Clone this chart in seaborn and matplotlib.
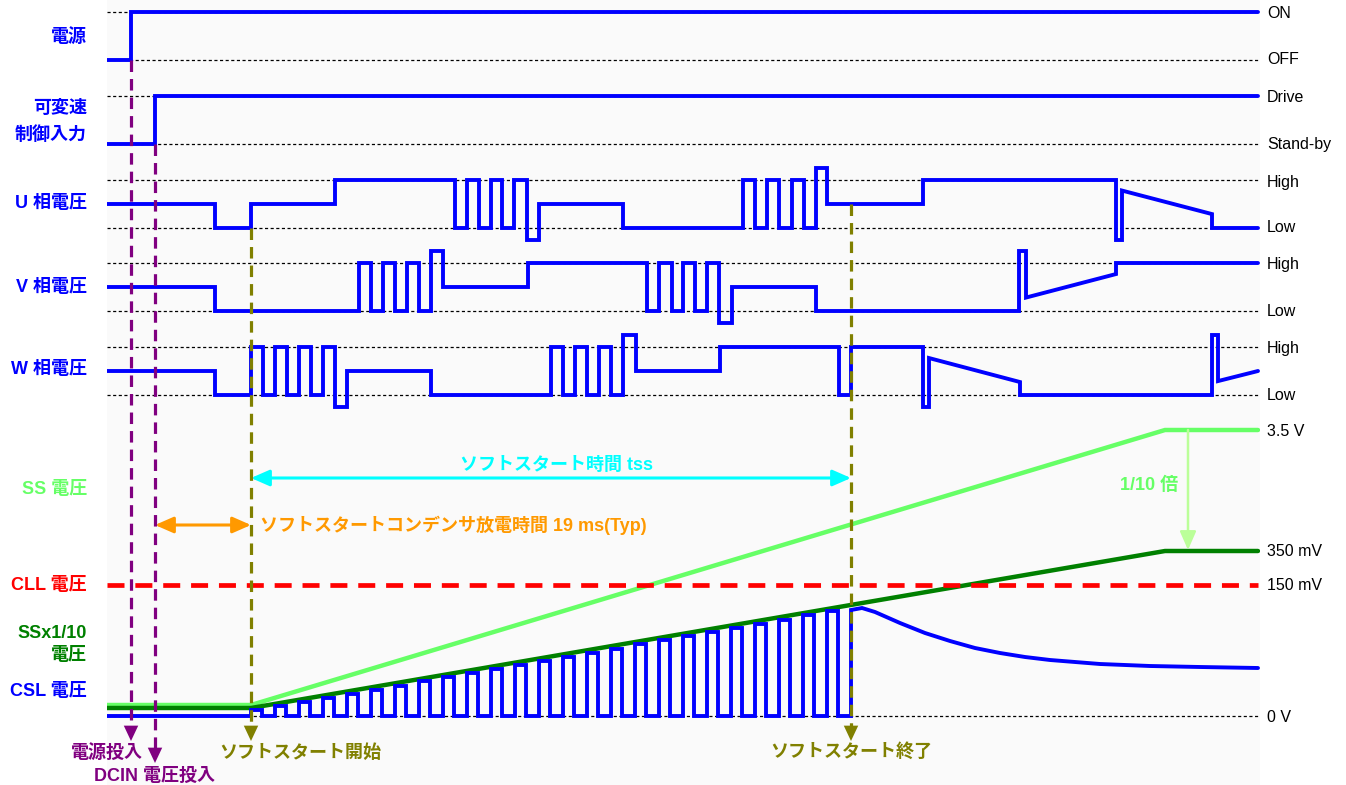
# -*- coding: utf-8 -*-
"""
Timing chart: power-on sequence and soft start (SS / CLL / CSL voltages).
"""

import matplotlib
matplotlib.use("Agg")
import matplotlib.pyplot as plt
import seaborn as sns


# =============================================================================
# Data (time axis in arbitrary units, levels: 0 = Low, 1 = High, 0.5 = Hi-Z)
# =============================================================================

T_START, T_END = 107, 1258

power_edges = [107, 131, 1258]
power_levels = [0, 1]

drive_edges = [107, 155, 1258]
drive_levels = [0, 1]

u_edges = [107, 215, 251, 335, 455, 467, 479, 491, 502, 514, 527, 539, 623,
           743, 755, 767, 779, 792, 804, 816, 827, 923, 1116, 1122, 1212, 1258]
u_levels = [0.5, 0, 0.5, 1, 0, 1, 0, 1, 0, 1, -0.25, 0.5, 0,
            1, 0, 1, 0, 1, 0, 1.25, 0.5, 1, -0.25, (0.78, 0.29), 0]

v_edges = [107, 215, 359, 371, 383, 395, 407, 419, 431, 443, 528, 647, 659,
           672, 683, 695, 707, 719, 732, 816, 1019, 1026, 1116, 1258]
v_levels = [0.5, 0, 1, 0, 1, 0, 1, 0, 1.25, 0.5, 1, 0,
            1, 0, 1, 0, 1, -0.25, 0.5, 0, 1.25, (0.28, 0.77), 1]

w_edges = [107, 215, 251, 263, 275, 287, 299, 311, 323, 335, 347, 431, 551,
           563, 575, 587, 599, 611, 623, 636, 720, 839, 851, 923, 929, 1020,
           1212, 1218, 1258]
w_levels = [0.5, 0, 1, 0, 1, 0, 1, 0, 1, -0.25, 0.5, 0,
            1, 0, 1, 0, 1, 0, 1.25, 0.5, 1, 0, 1, -0.25, (0.77, 0.27),
            0, 1.25, (0.29, 0.5)]

# analog part: height above the 0 V line
ss_t = [107, 251, 1165, 1258]
ss_h = [11, 11, 286, 286]
ss10_t = [107, 251, 1165, 1258]
ss10_h = [8, 8, 165, 165]
cll_h = 131

csl_rise = [251, 275, 299, 323, 347, 371, 395, 419, 443, 467, 491, 515, 539,
            563, 587, 611, 635, 659, 683, 707, 731, 755, 779, 803, 827]
csl_peak = [6, 10, 14, 18, 22, 26, 30, 35, 39, 43, 47, 51, 55,
            59, 63, 67, 72, 76, 80, 84, 88, 92, 96, 101, 105]
csl_pulse_width = 11
csl_decay_t = [851, 862, 875, 900, 925, 950, 975, 1000, 1025, 1050, 1075,
               1100, 1150, 1200, 1258]
csl_decay_h = [106, 108, 104, 93, 83, 75, 68, 63, 59, 56, 54, 52, 50, 49, 48]

t_power_on, t_dcin, t_ss_start, t_ss_end = 131, 155, 251, 851


# =============================================================================
# Layout
# =============================================================================

lanes = {'power': (12, 60), 'drive': (96, 144), 'U': (180, 228),
         'V': (263, 311), 'W': (347, 395)}
zero_y = 716

BLUE = '#0000ff'
PURPLE = '#800080'
OLIVE = '#808000'
LGREEN = '#66ff66'
DGREEN = '#008000'
ORANGE = '#ff9900'
CYAN = '#00ffff'

sns.set_style('white')
plt.rcParams['font.family'] = ['Liberation Sans', 'Noto Sans CJK JP', 'DejaVu Sans']


def trace(edges, levels):
    ts, ls = [], []
    for i, lv in enumerate(levels):
        a, b = lv if isinstance(lv, tuple) else (lv, lv)
        ts += [edges[i], edges[i + 1]]
        ls += [a, b]
    return ts, ls


def lane_y(levels, lane):
    hi, lo = lanes[lane]
    return [lo - l * (lo - hi) for l in levels]


def draw(ax, t, y, color, lw, z=3, **kw):
    sns.lineplot(x=t, y=y, ax=ax, estimator=None, sort=False, color=color,
                 linewidth=lw, zorder=z, solid_joinstyle='miter', **kw)


fig = plt.figure(figsize=(13.46, 7.85), dpi=100)
ax = fig.add_axes([107 / 1346, 0, (1260 - 107) / 1346, 1])
ax.set_facecolor('#fafafa')

# dotted reference lines
for hi, lo in lanes.values():
    for yy in (hi, lo):
        ax.plot([T_START, T_END], [yy, yy], color='black', lw=0.9,
                linestyle=(0, (2.5, 2)), zorder=1)
ax.plot([T_START, T_END], [zero_y, zero_y], color='black', lw=0.9,
        linestyle=(0, (2.5, 2)), zorder=1)

# digital signals
for name, edges, levels in [('power', power_edges, power_levels),
                            ('drive', drive_edges, drive_levels),
                            ('U', u_edges, u_levels),
                            ('V', v_edges, v_levels),
                            ('W', w_edges, w_levels)]:
    t, l = trace(edges, levels)
    draw(ax, t, lane_y(l, name), BLUE, 2.8)

# analog signals
draw(ax, ss_t, [zero_y - h for h in ss_h], LGREEN, 3.2, z=2)
draw(ax, ss10_t, [zero_y - h for h in ss10_h], DGREEN, 3.2, z=2)
ax.plot([T_START, T_END], [zero_y - cll_h] * 2, color='#ff0000', lw=3.4,
        linestyle=(0, (3.6, 2.3)), zorder=2)

csl_t, csl_v = [T_START, csl_rise[0]], [0, 0]
for r, p in zip(csl_rise, csl_peak):
    csl_t += [r, r, r + csl_pulse_width, r + csl_pulse_width]
    csl_v += [0, p, p, 0]
csl_t += [t_ss_end] + csl_decay_t
csl_v += [0] + csl_decay_h
draw(ax, csl_t, [zero_y - v for v in csl_v], BLUE, 2.8)

# event markers
head = dict(arrowstyle='-|>,head_length=0.85,head_width=0.4', lw=0,
            shrinkA=0, shrinkB=0, mutation_scale=13)
for x, y0, y1, c in [(t_power_on, lanes['power'][1], 741, PURPLE),
                     (t_dcin, lanes['drive'][1], 763, PURPLE),
                     (t_ss_start, lanes['U'][1], 741, OLIVE),
                     (t_ss_end, (lanes['U'][0] + lanes['U'][1]) / 2, 741, OLIVE)]:
    ax.plot([x, x], [y0, y1 - 10], color=c, lw=2.3, linestyle=(0, (3.6, 2.2)),
            zorder=5)
    ax.annotate('', xy=(x, y1), xytext=(x, y1 - 14),
                arrowprops=dict(head, color=c), zorder=5)

ax.annotate('', xy=(t_ss_start, 478), xytext=(t_ss_end, 478),
            arrowprops=dict(arrowstyle='<|-|>,head_length=0.8,head_width=0.35',
                            color=CYAN, lw=2.2, shrinkA=0, shrinkB=0,
                            mutation_scale=14), zorder=4)
ax.annotate('', xy=(t_dcin, 525), xytext=(t_ss_start, 525),
            arrowprops=dict(arrowstyle='<|-|>,head_length=0.8,head_width=0.35',
                            color=ORANGE, lw=2.2, shrinkA=0, shrinkB=0,
                            mutation_scale=14), zorder=4)
ax.annotate('', xy=(1188, 550), xytext=(1188, zero_y - ss_h[-1]),
            arrowprops=dict(arrowstyle='-|>,head_length=0.8,head_width=0.35',
                            color='#bbff99', lw=1.8, shrinkA=0, shrinkB=0,
                            mutation_scale=14), zorder=4)

# texts
bold = dict(fontsize=13, fontweight='bold')
ax.text(556, 465, 'ソフトスタート時間 tss', color=CYAN, ha='center', va='center', **bold)
ax.text(260, 525, 'ソフトスタートコンデンサ放電時間 19 ms(Typ)', color=ORANGE,
        ha='left', va='center', **bold)
ax.text(1178, 485, '1/10 倍', color=LGREEN, ha='right', va='center', **bold)

left_labels = [('電源', 37, BLUE), ('可変速', 108, BLUE), ('制御入力', 135, BLUE),
               ('U 相電圧', 204, BLUE), ('V 相電圧', 287, BLUE),
               ('W 相電圧', 370, BLUE), ('SS 電圧', 490, LGREEN),
               ('CLL 電圧', 585, '#ff0000'), ('SSx1/10', 633, DGREEN),
               ('電圧', 656, DGREEN), ('CSL 電圧', 692, BLUE)]
for s, y, c in left_labels:
    ax.text(87, y, s, color=c, ha='right', va='center', **bold)

right_labels = [('ON', 14), ('OFF', 60), ('Drive', 98), ('Stand-by', 145),
                ('High', 182), ('Low', 228), ('High', 265), ('Low', 312),
                ('High', 349), ('Low', 395), ('3.5 V', 432), ('350 mV', 551),
                ('150 mV', 586), ('0 V', 717)]
for s, y in right_labels:
    ax.text(1267, y, s, color='black', ha='left', va='center', fontsize=11.5)

ax.text(107, 753, '電源投入', color=PURPLE, ha='center', va='center', **bold)
ax.text(155, 776, 'DCIN 電圧投入', color=PURPLE, ha='center', va='center', **bold)
ax.text(300, 753, 'ソフトスタート開始', color=OLIVE, ha='center', va='center', **bold)
ax.text(851, 752, 'ソフトスタート終了', color=OLIVE, ha='center', va='center', **bold)

ax.set_xlim(107, 1260)
ax.set_ylim(785, 0)
ax.set_xticks([])
ax.set_yticks([])
ax.set_xlabel('')
ax.set_ylabel('')
for sp in ax.spines.values():
    sp.set_visible(False)

fig.savefig('out.png', dpi=100, facecolor='white')
